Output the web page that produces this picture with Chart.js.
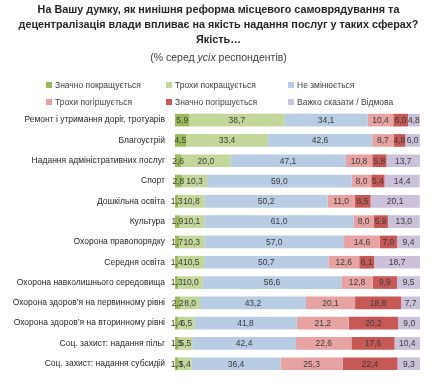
<!DOCTYPE html>
<html>
<head>
<meta charset="utf-8">
<script src="https://cdn.jsdelivr.net/npm/chart.js@4"></script>
<style>
  html, body { margin: 0; padding: 0; background: #fff; }
  body { width: 437px; height: 389px; position: relative; overflow: hidden; font-family: "Liberation Sans", Arial, sans-serif; }
  #title { position: absolute; left: 0; top: 2px; width: 437px; text-align: center; font-weight: bold; font-size: 10.8px; line-height: 15px; color: #262626; }
  #sub { position: absolute; left: 0; top: 51px; width: 437px; text-align: center; font-size: 10.5px; color: #404040; }
  #legend { position: absolute; left: 0; top: 80px; width: 437px; font-size: 8.5px; color: #404040; }
  .item { position: absolute; white-space: nowrap; }
  .item span { display: inline-block; width: 6px; height: 6px; margin-right: 3px; vertical-align: 0px; }
  #chart { position: absolute; left: 0; top: 0; }
</style>
</head>
<body>
<canvas id="chart" width="437" height="389"></canvas>
<div id="title">На Вашу думку, як нинішня реформа місцевого самоврядування та<br>децентралізація влади впливає на якість надання послуг у таких сферах?<br>Якість…</div>
<div id="sub">(% серед <i>усіх</i> респондентів)</div>
<div id="legend"></div>
<script>
"use strict";

const categories = [
    "Ремонт і утримання доріг, тротуарів",
    "Благоустрій",
    "Надання адміністративних послуг",
    "Спорт",
    "Дошкільна освіта",
    "Культура",
    "Охорона правопорядку",
    "Середня освіта",
    "Охорона навколишнього середовища",
    "Охорона здоров’я на первинному рівні",
    "Охорона здоров’я на вторинному рівні",
    "Соц. захист: надання пільг",
    "Соц. захист: надання субсидій"
];

const seriesNames = [
    "Значно покращується",
    "Трохи покращується",
    "Не змінюється",
    "Трохи погіршується",
    "Значно погіршується",
    "Важко сказати / Відмова"
];

const muchBetter   = [5.9, 4.5, 2.6, 2.8, 1.3, 1.9, 1.7, 1.4, 1.3, 2.2, 1.4, 1.5, 1.3];
const littleBetter = [38.7, 33.4, 20.0, 10.3, 10.8, 10.1, 10.3, 10.5, 10.0, 8.0, 6.5, 5.5, 5.4];
const noChange     = [34.1, 42.6, 47.1, 59.0, 50.2, 61.0, 57.0, 50.7, 56.6, 43.2, 41.8, 42.4, 36.4];
const littleWorse  = [10.4, 8.7, 10.8, 8.0, 11.0, 8.0, 14.6, 12.6, 12.8, 20.1, 21.2, 22.6, 25.3];
const muchWorse    = [6.0, 4.8, 5.8, 5.4, 6.5, 5.9, 7.0, 6.1, 9.9, 18.8, 20.2, 17.6, 22.4];
const hardToSay    = [4.8, 6.0, 13.7, 14.4, 20.1, 13.0, 9.4, 18.7, 9.5, 7.7, 9.0, 10.4, 9.3];

const colors = ["#9bbb59", "#c4d79b", "#b8cce4", "#e6a3a2", "#c65856", "#ccc1da"];
const allSeries = [muchBetter, littleBetter, noChange, littleWorse, muchWorse, hardToSay];

// legend: 3 columns x 2 rows
const legend = document.getElementById("legend");
const colX = [46, 166, 288];
seriesNames.forEach((name, i) => {
    const el = document.createElement("div");
    el.className = "item";
    el.style.left = colX[i % 3] + "px";
    el.style.top = (Math.floor(i / 3) * 17) + "px";
    el.innerHTML = '<span style="background:' + colors[i] + '"></span>' + name;
    legend.appendChild(el);
});

const barLabels = {
    id: "barLabels",
    afterDatasetsDraw(chart) {
        const ctx = chart.ctx;
        ctx.save();
        ctx.font = "8.5px 'Liberation Sans', Arial, sans-serif";
        ctx.fillStyle = "#3a3a3a";
        ctx.textAlign = "center";
        ctx.textBaseline = "middle";
        chart.data.datasets.forEach((ds, di) => {
            const meta = chart.getDatasetMeta(di);
            meta.data.forEach((bar, i) => {
                const v = ds.data[i];
                const cx = (bar.x + bar.base) / 2;
                ctx.fillText(v.toFixed(1).replace(".", ","), cx, bar.y + 0.5);
            });
        });
        ctx.restore();
    }
};

new Chart(document.getElementById("chart").getContext("2d"), {
    type: "bar",
    data: {
        labels: categories,
        datasets: seriesNames.map((name, i) => ({
            label: name,
            data: allSeries[i],
            backgroundColor: colors[i],
            borderWidth: 0,
            categoryPercentage: 0.8,
            barPercentage: 0.78
        }))
    },
    options: {
        indexAxis: "y",
        responsive: false,
        animation: false,
        layout: { padding: { top: 110, bottom: 9, right: 17, left: 0 } },
        plugins: {
            legend: { display: false },
            tooltip: { enabled: false }
        },
        scales: {
            x: { stacked: true, min: 0, max: 100, display: false },
            y: {
                stacked: true,
                grid: { display: false, drawTicks: false },
                border: { display: false },
                ticks: {
                    padding: 10,
                    color: "#262626",
                    font: { size: 8.5, family: "'Liberation Sans', Arial, sans-serif" }
                },
                afterFit(scale) { scale.width = 175; }
            }
        }
    },
    plugins: [barLabels]
});
</script>
</body>
</html>
